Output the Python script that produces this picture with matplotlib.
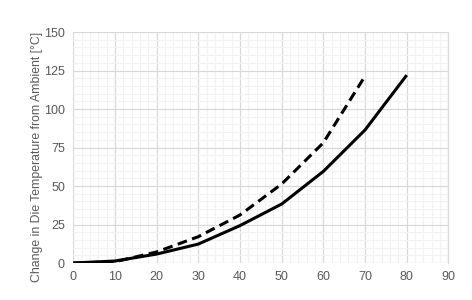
import matplotlib
matplotlib.use("Agg")
import matplotlib.pyplot as plt
from matplotlib.ticker import MultipleLocator

x_solid = [0, 10, 20, 30, 40, 50, 60, 70, 80]
y_solid = [0, 1.3, 5.8, 12.3, 24.3, 38.3, 59.5, 86.4, 122]
x_dashed = [0, 10, 20, 30, 40, 50, 60, 70]
y_dashed = [0, 0.8, 7.2, 17.1, 31.2, 51.3, 78.1, 121.4]
x_ticks = [0, 10, 20, 30, 40, 50, 60, 70, 80, 90]
y_ticks = [0, 25, 50, 75, 100, 125, 150]
y_label = "Change in Die Temperature from Ambient [\u00b0C]"

plt.rcParams['font.family'] = ['Liberation Sans', 'DejaVu Sans']
fig = plt.figure(figsize=(4.72, 3.0), dpi=100)
ax = fig.add_axes([0.1553, 0.1233, 0.7947, 0.77])

ax.plot(x_solid, y_solid, color='black', lw=2.2, solid_capstyle='butt', zorder=3)
ax.plot(x_dashed, y_dashed, color='black', lw=2.2, dashes=(3.2, 1.8), zorder=3)

ax.set_xlim(0, 90)
ax.set_ylim(0, 150)
ax.set_xticks(x_ticks)
ax.set_yticks(y_ticks)
ax.xaxis.set_minor_locator(MultipleLocator(2))
ax.yaxis.set_minor_locator(MultipleLocator(5))
ax.grid(which='major', color='#d9d9d9', lw=0.9, zorder=1)
ax.grid(which='minor', color='#f2f2f2', lw=0.8, zorder=0)
ax.tick_params(which='both', length=0, labelsize=9, labelcolor='#595959', pad=6)
for s in ['top', 'left', 'bottom']:
    ax.spines[s].set_visible(False)
ax.spines['right'].set_color('#d9d9d9')
ax.spines['right'].set_linewidth(0.9)
fig.text(37 / 472, 1 - 157 / 300, y_label, rotation=90, fontsize=8.8,
         color='#595959', ha='center', va='center')

fig.savefig('out.png', dpi=100)
